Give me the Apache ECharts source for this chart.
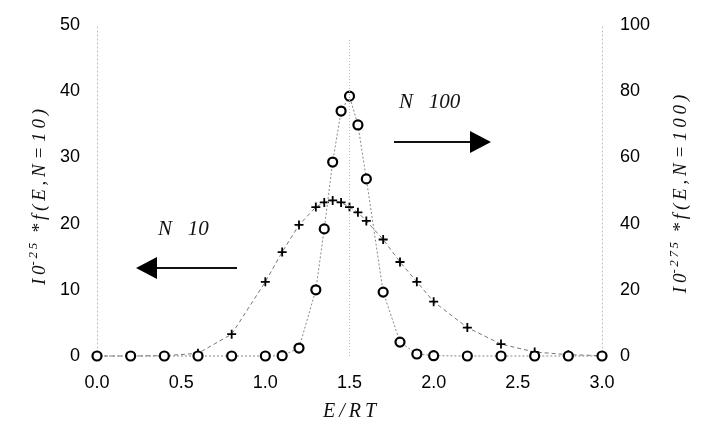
<!DOCTYPE html>
<html>
<head>
<meta charset="utf-8">
<script src="https://cdn.jsdelivr.net/npm/echarts@6/dist/echarts.min.js"></script>
<style>
  html, body { margin: 0; padding: 0; background: #fff; }
  #chart { width: 704px; height: 440px; }
</style>
</head>
<body>
<div id="chart"></div>
<script>
// Energy values E/RT where the distributions were sampled
const energyN10 = [0, 0.2, 0.4, 0.6, 0.8, 1.0, 1.1, 1.2, 1.3, 1.35, 1.4, 1.45, 1.5, 1.55, 1.6, 1.7, 1.8, 1.9, 2.0, 2.2, 2.4, 2.6, 2.8, 3.0];
const energyN100 = [0, 0.2, 0.4, 0.6, 0.8, 1.0, 1.1, 1.2, 1.3, 1.35, 1.4, 1.45, 1.5, 1.55, 1.6, 1.7, 1.8, 1.9, 2.0, 2.2, 2.4, 2.6, 2.8, 3.0];
// 10^-25 * f(E, N=10)  (left axis)
const fN10 = [0, 0, 0.05, 0.4, 3.3, 11.2, 15.7, 19.8, 22.5, 23.2, 23.5, 23.2, 22.5, 21.7, 20.4, 17.6, 14.2, 11.2, 8.2, 4.3, 1.8, 0.6, 0.2, 0.05];
// 10^-275 * f(E, N=100)  (right axis)
const fN100 = [0, 0, 0, 0, 0, 0, 0.1, 2.4, 20, 38.4, 58.6, 74, 78.5, 69.8, 53.5, 19.3, 4.2, 0.6, 0.1, 0, 0, 0, 0, 0];
// Axis tick values
const xTicks = [0, 0.5, 1.0, 1.5, 2.0, 2.5, 3.0];
const leftTicks = [0, 10, 20, 30, 40, 50];
const rightTicks = [0, 20, 40, 60, 80, 100];
// Position of the reference line
const peakEnergy = [1.5];

const pairs = (xs, ys) => xs.map((x, i) => [x, ys[i]]);
// Loosen letter spacing with thin spaces
const spaced = s => s.split('').join('\u2009');

const tickFont = { color: '#000', fontFamily: 'Liberation Sans, Arial, sans-serif', fontSize: 18 };
const serifItalic = { fontFamily: 'Liberation Serif, Times New Roman, serif', fontStyle: 'italic' };
const PLUS = 'path://M4,0H6V4H10V6H6V10H4V6H0V4H4Z';

const titleRich = {
  a: Object.assign({ fontSize: 19, fill: '#111' }, serifItalic),
  s: Object.assign({ fontSize: 13, fill: '#111', padding: [0, 0, 12, 0] }, serifItalic)
};
const axisTitle = (exp, n) =>
  '{a|' + spaced('I0') + '}{s|' + spaced(exp) + '}{a|  ' + spaced('*f(E,N') + ' = ' + spaced(n + ')') + '}';

const chart = echarts.init(document.getElementById('chart'), null, { renderer: 'canvas' });

chart.setOption({
  animation: false,
  backgroundColor: '#fff',
  grid: { left: 97, right: 102, top: 25, bottom: 84, containLabel: false },
  xAxis: {
    type: 'value',
    min: xTicks[0], max: xTicks[xTicks.length - 1], interval: xTicks[1] - xTicks[0],
    name: spaced('E/RT'),
    nameLocation: 'middle',
    nameGap: 46,
    nameTextStyle: Object.assign({ fontSize: 20, color: '#111' }, serifItalic),
    axisLine: { show: false },
    axisTick: { show: false },
    splitLine: { show: false },
    axisLabel: Object.assign({ margin: 18, formatter: v => v.toFixed(1) }, tickFont)
  },
  yAxis: [
    {
      type: 'value',
      min: leftTicks[0], max: leftTicks[leftTicks.length - 1], interval: leftTicks[1] - leftTicks[0],
      position: 'left',
      axisLine: { show: true, lineStyle: { color: '#bbb', width: 1, type: [1, 3] } },
      axisTick: { show: false },
      splitLine: { show: false },
      axisLabel: Object.assign({ margin: 17 }, tickFont)
    },
    {
      type: 'value',
      min: rightTicks[0], max: rightTicks[rightTicks.length - 1], interval: rightTicks[1] - rightTicks[0],
      position: 'right',
      axisLine: { show: true, lineStyle: { color: '#bbb', width: 1, type: [1, 3] } },
      axisTick: { show: false },
      splitLine: { show: false },
      axisLabel: Object.assign({ margin: 18 }, tickFont)
    }
  ],
  series: [
    {
      name: 'N=10',
      type: 'line',
      yAxisIndex: 0,
      data: pairs(energyN10, fN10),
      symbol: PLUS,
      symbolSize: 9,
      clip: false,
      itemStyle: { color: '#000' },
      lineStyle: { color: '#777', width: 1, type: [4, 3] },
      z: 3
    },
    {
      name: 'N=100',
      type: 'line',
      yAxisIndex: 1,
      data: pairs(energyN100, fN100),
      symbol: 'circle',
      symbolSize: 9,
      clip: false,
      itemStyle: { color: '#fff', borderColor: '#000', borderWidth: 2.2 },
      lineStyle: { color: '#888', width: 1, type: [2, 2] },
      markLine: {
        silent: true,
        symbol: 'none',
        label: { show: false },
        lineStyle: { color: '#bbb', width: 1, type: [1, 2] },
        data: peakEnergy.map(x => [{ coord: [x, 0] }, { coord: [x, 96] }])
      },
      z: 4
    }
  ],
  graphic: [
    // Rotated axis titles
    { type: 'text', x: 40, y: 197, rotation: Math.PI / 2,
      style: { text: axisTitle('-25', '10'), rich: titleRich, align: 'center', verticalAlign: 'middle' } },
    { type: 'text', x: 681, y: 194, rotation: Math.PI / 2,
      style: { text: axisTitle('-275', '100'), rich: titleRich, align: 'center', verticalAlign: 'middle' } },
    // N = 100 label and arrow pointing to the right axis
    { type: 'text', left: 399, top: 92, style: Object.assign({ text: 'N   100', fontSize: 21, fill: '#111' }, serifItalic) },
    { type: 'line', shape: { x1: 394, y1: 142, x2: 472, y2: 142 }, style: { stroke: '#111', lineWidth: 2 } },
    { type: 'polygon', shape: { points: [[470, 131], [491, 142], [470, 153]] }, style: { fill: '#000' } },
    // N = 10 label and arrow pointing to the left axis
    { type: 'text', left: 158, top: 219, style: Object.assign({ text: 'N   10', fontSize: 21, fill: '#111' }, serifItalic) },
    { type: 'line', shape: { x1: 156, y1: 268, x2: 237, y2: 268 }, style: { stroke: '#111', lineWidth: 2 } },
    { type: 'polygon', shape: { points: [[157, 257], [136, 268], [157, 279]] }, style: { fill: '#000' } }
  ]
});
</script>
</body>
</html>
